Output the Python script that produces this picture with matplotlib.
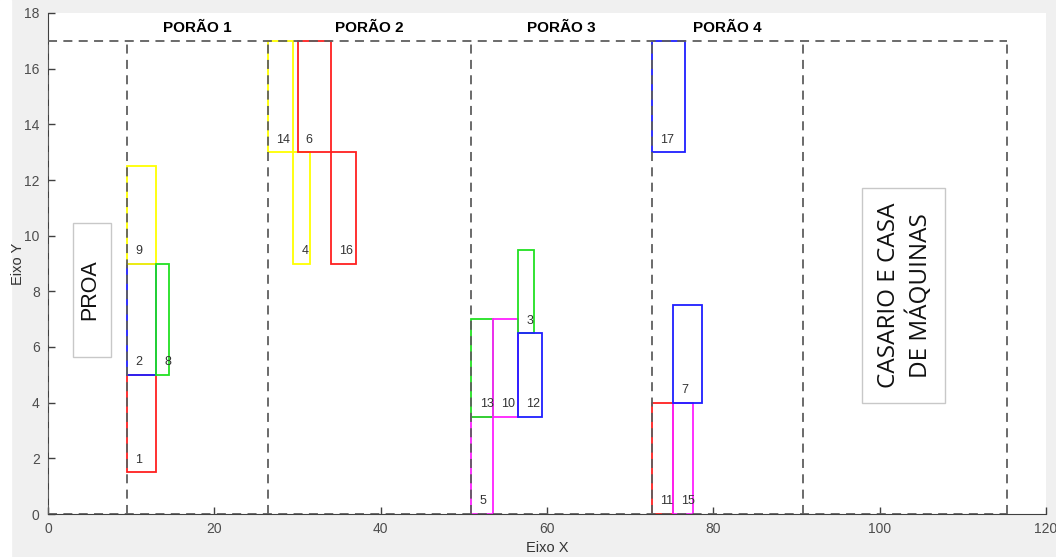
import matplotlib
matplotlib.use("Agg")
import matplotlib.pyplot as plt
from matplotlib.patches import Rectangle

# Hull layout: bulkhead positions along X and deck height
BULKHEADS = [0, 9.5, 26.4, 50.9, 72.6, 90.8, 115.3]
DECK_TOP = 17

HOLD_NAMES = ["PORÃO 1", "PORÃO 2", "PORÃO 3", "PORÃO 4"]

# Cargo blocks
BLOCK_IDS = [1, 2, 9, 8, 14, 4, 6, 16, 5, 13, 10, 3, 12, 11, 15, 7, 17]
BLOCK_X = [9.5, 9.5, 9.5, 13.0, 26.4, 29.5, 30.0, 34.0, 50.9, 50.9, 53.5, 56.5, 56.5, 72.6, 75.1, 75.1, 72.6]
BLOCK_Y = [1.5, 5.0, 9.0, 5.0, 13.0, 9.0, 13.0, 9.0, 0.0, 3.5, 3.5, 6.5, 3.5, 0.0, 0.0, 4.0, 13.0]
BLOCK_W = [3.5, 3.5, 3.5, 1.6, 3.0, 2.0, 4.0, 3.0, 2.6, 2.6, 3.0, 1.9, 2.9, 2.5, 2.5, 3.5, 4.0]
BLOCK_H = [3.5, 4.0, 3.5, 4.0, 4.0, 4.0, 4.0, 4.0, 3.5, 3.5, 3.5, 3.0, 3.0, 4.0, 4.0, 3.5, 4.0]
BLOCK_COLORS = ["#ff2020", "#1f1fff", "#ffff00", "#22e022", "#ffff00", "#ffff00", "#ff2020", "#ff2020",
                "#ff20ff", "#22e022", "#ff20ff", "#22e022", "#1f1fff", "#ff2020", "#ff20ff", "#1f1fff",
                "#1f1fff"]

# Text boxes: (x0, y0, x1, y1) in data units
PROA_BOX = (3.0, 5.65, 7.6, 10.45)
CASARIO_BOX = (97.9, 4.0, 107.8, 11.7)

X_TICKS = [0, 20, 40, 60, 80, 100, 120]
Y_TICKS = [0, 2, 4, 6, 8, 10, 12, 14, 16, 18]

fig = plt.figure(figsize=(10.56, 5.57), dpi=100, facecolor="#f0f0f0")
fig.add_artist(Rectangle((0, 0), 11 / 1056, 1, transform=fig.transFigure, color="white", zorder=0))
ax = fig.add_axes([48 / 1056, 1 - 514 / 557, 998 / 1056, 501 / 557])
ax.set_facecolor("white")

# cargo blocks
for bid, x0, y0, w, h, c in zip(BLOCK_IDS, BLOCK_X, BLOCK_Y, BLOCK_W, BLOCK_H, BLOCK_COLORS):
    ax.add_patch(Rectangle((x0, y0), w, h, fill=False, edgecolor=c, lw=1.3, zorder=2))
    ax.text(x0 + 1.0, y0 + 0.45, str(bid), ha="left", va="center", fontsize=9,
            color="#333333", family="Liberation Sans", zorder=4)

# hull outline and bulkheads
dash = (0, (5, 3.5))
hull_color = "#5f5f5f"
ax.plot([BULKHEADS[0], BULKHEADS[-1]], [DECK_TOP, DECK_TOP], ls=dash, color=hull_color, lw=1.3, zorder=3)
ax.plot([BULKHEADS[0], BULKHEADS[-1]], [0, 0], ls=dash, color=hull_color, lw=1.3, zorder=3)
for bx in BULKHEADS:
    ax.plot([bx, bx], [0, DECK_TOP], ls=dash, color=hull_color, lw=1.3, zorder=3)

# hold names
for i, name in enumerate(HOLD_NAMES):
    xc = (BULKHEADS[i + 1] + BULKHEADS[i + 2]) / 2
    ax.text(xc, 17.45, name, ha="center", va="center", fontsize=11, fontweight="bold",
            color="black", family="Liberation Sans")

# bow and engine room labels
for (bx0, by0, bx1, by1) in (PROA_BOX, CASARIO_BOX):
    ax.add_patch(Rectangle((bx0, by0), bx1 - bx0, by1 - by0, fc="white", ec="#c8c8c8", lw=1, zorder=1))
ax.text((PROA_BOX[0] + PROA_BOX[2]) / 2 - 0.3, (PROA_BOX[1] + PROA_BOX[3]) / 2, "PROA", rotation=90,
        ha="center", va="center", fontsize=15.5, family="Liberation Sans", color="#111111")
ax.text((CASARIO_BOX[0] + CASARIO_BOX[2]) / 2 + 0.2, (CASARIO_BOX[1] + CASARIO_BOX[3]) / 2,
        "CASARIO E CASA\nDE MÁQUINAS", rotation=90, ha="center", va="center",
        fontsize=17.5, family="Open Sans", color="#111111", linespacing=1.3,
        multialignment="center")

ax.set_xlim(0, 120)
ax.set_ylim(0, 18)
ax.set_xticks(X_TICKS)
ax.set_yticks(Y_TICKS)
ax.tick_params(direction="in", length=5, width=1, colors="#404040", labelsize=10,
               labelcolor="#4d4d4d", pad=6)
for lbl in ax.get_xticklabels() + ax.get_yticklabels():
    lbl.set_family("Liberation Sans")
ax.spines["top"].set_visible(False)
ax.spines["right"].set_visible(False)
ax.spines["left"].set_color("#404040")
ax.spines["bottom"].set_color("#404040")
ax.set_xlabel("Eixo X", fontsize=10.5, color="#333333", family="Liberation Sans", labelpad=3)
ax.set_ylabel("Eixo Y", fontsize=10.5, color="#333333", family="Liberation Sans")
ax.yaxis.set_label_coords(-0.023, 0.5)

fig.savefig("out.png", dpi=100, facecolor=fig.get_facecolor())
